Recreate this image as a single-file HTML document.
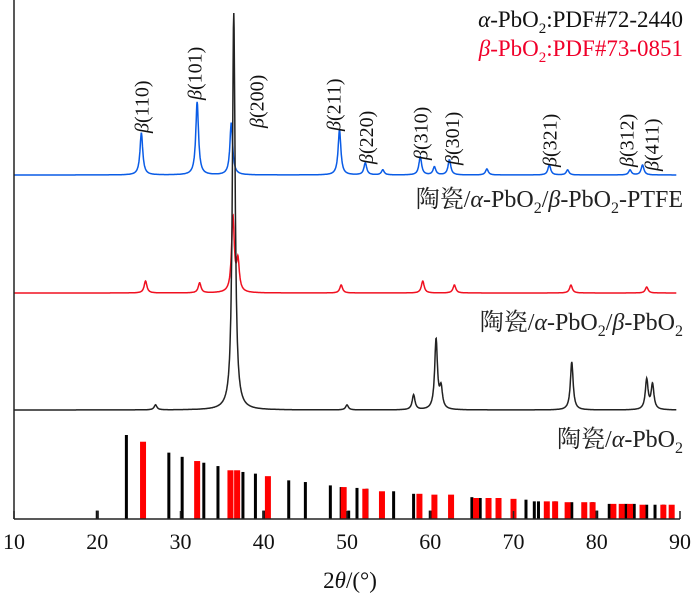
<!DOCTYPE html>
<html><head><meta charset="utf-8"><style>
body{margin:0;background:#fff}
svg{display:block;font-family:"Liberation Serif","Noto Serif CJK SC",serif}
</style></head><body>
<svg id="c" width="700" height="601" viewBox="0 0 700 601">
<g id="plot"></g>
<g id="sticks"></g>
<g id="axes"></g>
<g id="labels"></g>
<text x="683" y="27" text-anchor="end" font-size="23" fill="#111"><tspan font-style="italic">α</tspan>-PbO<tspan font-size="15" dy="6">2</tspan><tspan dy="-6">:PDF#72-2440</tspan></text>
<text x="683" y="56" text-anchor="end" font-size="23" fill="#f0002a"><tspan font-style="italic">β</tspan>-PbO<tspan font-size="15" dy="6">2</tspan><tspan dy="-6">:PDF#73-0851</tspan></text>
<text x="683" y="207" text-anchor="end" font-size="24" fill="#222">陶瓷/<tspan font-style="italic">α</tspan>-PbO<tspan font-size="16" dy="6">2</tspan><tspan dy="-6">/</tspan><tspan font-style="italic">β</tspan>-PbO<tspan font-size="16" dy="6">2</tspan><tspan dy="-6">-PTFE</tspan></text>
<text x="683" y="330" text-anchor="end" font-size="24" fill="#222">陶瓷/<tspan font-style="italic">α</tspan>-PbO<tspan font-size="16" dy="6">2</tspan><tspan dy="-6">/</tspan><tspan font-style="italic">β</tspan>-PbO<tspan font-size="16" dy="6">2</tspan></text>
<text x="683" y="447" text-anchor="end" font-size="24" fill="#222">陶瓷/<tspan font-style="italic">α</tspan>-PbO<tspan font-size="16" dy="6">2</tspan></text>
<text x="350" y="588" text-anchor="middle" font-size="23" fill="#111">2<tspan font-style="italic">θ</tspan>/(°)</text>
</svg>
<script>
const xTicks=[10,20,30,40,50,60,70,80,90];
const blueBase=175, redBase=293, blackBase=410;
const bluePeakPos=[25.3,32.0,36.1,49.1,52.2,54.3,58.8,60.5,62.3,66.8,74.3,76.5,84.0,85.5];
const bluePeakH=[42,73,52,45,12,5,18,8,15,6,10,5,5,10];
const redPeakPos=[25.8,32.3,36.3,36.9,49.3,59.1,62.9,76.9,86.0];
const redPeakH=[12,10,75,30,8,12,8,8,6];
const blackPeakPos=[27.0,36.4,50.0,58.0,60.7,61.3,77.0,86.0,86.7];
const blackPeakH=[5,397,5,15,70,20,48,30,25];
const alphaSticks=[20,23.5,28.6,30.2,32.8,34.5,37.5,39,40,43,45,48,49.3,50.2,51.2,52.4,55.6,58,60,65,66,71.5,72.5,73,75,77,79.5,80,81.5,83.5,84.5,86,87,88];
const alphaI=[10,100,79,74,67,63,56,54,10,46,44,40,38,10,37,36,33,30,10,26,25,23,21,21,21,20,20,10,18,18,18,17,17,17];
const betaSticks=[25.5,32,36,36.8,40.5,49.6,52.2,54.2,58.7,60.5,62.5,65.5,67,68.2,70,74,75,76.5,78.5,79.5,82,83,84,85.5,88,89];
const betaI=[92,69,58,58,51,38,36,33,30,29,29,25,25,25,24,21,21,20,20,20,18,18,18,17,17,17];
const hklLabels=["(110)","(101)","(200)","(211)","(220)","(310)","(301)","(321)","(312)","(411)"];
const hklPos=[25.3,31.7,39.1,48.4,52.3,58.8,62.6,74.3,83.6,86.6];
const hklBottom=[133,100,128,131,164,160,165,167,167,171];
const NS="http://www.w3.org/2000/svg";
const X=v=>14+(v-10)*(666/80);
const axisBase=519, stickScale=84/100;
const Ys=i=>axisBase-i*stickScale;
function mk(t,a,p){const e=document.createElementNS(NS,t);for(const k in a)e.setAttribute(k,a[k]);p.appendChild(e);return e;}
function trace(base,pos,h,color,name){
  let d="";
  for(let v=10;v<=89.6;v+=0.04){
    let y=0;
    for(let i=0;i<pos.length;i++){const w=0.2;const q=(v-pos[i])/w;y+=h[i]/(1+q*q);}
    d+=(d?"L":"M")+X(v).toFixed(1)+","+(base-y).toFixed(1);
  }
  const p=mk("path",{d:d,fill:"none",stroke:color,"stroke-width":1.5},document.getElementById("plot"));
  
  
}
trace(blueBase,bluePeakPos,bluePeakH,"#0a5ce6","ptfe-pattern-line");
trace(redBase,redPeakPos,redPeakH,"#f01020","beta-pattern-line");
trace(blackBase,blackPeakPos,blackPeakH,"#222","alpha-pattern-line");
const sg=document.getElementById("sticks");
alphaSticks.forEach((v,i)=>{
  const r=mk("rect",{x:X(v)-1.5,y:Ys(alphaI[i]),width:3,height:axisBase-Ys(alphaI[i]),fill:"#000"},sg);
  
  
});
betaSticks.forEach((v,i)=>{
  const r=mk("rect",{x:X(v)-3,y:Ys(betaI[i]),width:6,height:axisBase-Ys(betaI[i]),fill:"#f00"},sg);
  
  
});
const ag=document.getElementById("axes");
const ya=mk("line",{x1:14,y1:0,x2:14,y2:axisBase,stroke:"#222","stroke-width":1.5},ag);


const xa=mk("line",{x1:14,y1:axisBase,x2:X(90),y2:axisBase,stroke:"#222","stroke-width":1.5},ag);


xTicks.forEach(t=>{
  const l=mk("line",{x1:X(t),y1:axisBase,x2:X(t),y2:axisBase-8,stroke:"#222","stroke-width":1.5},ag);
  
  
  const tx=mk("text",{x:X(t),y:549,"text-anchor":"middle","font-size":22,fill:"#111"},ag);
  tx.textContent=t;
  
  
});
const lg=document.getElementById("labels");
hklLabels.forEach((s,i)=>{
  const x=X(hklPos[i])+7,y=hklBottom[i];
  const t=mk("text",{x:x,y:y,"font-size":20,fill:"#111",transform:`rotate(-90 ${x} ${y})`},lg);
  t.innerHTML='<tspan font-style="italic">β</tspan>'+s;
  
  
});
</script>
</body></html>
